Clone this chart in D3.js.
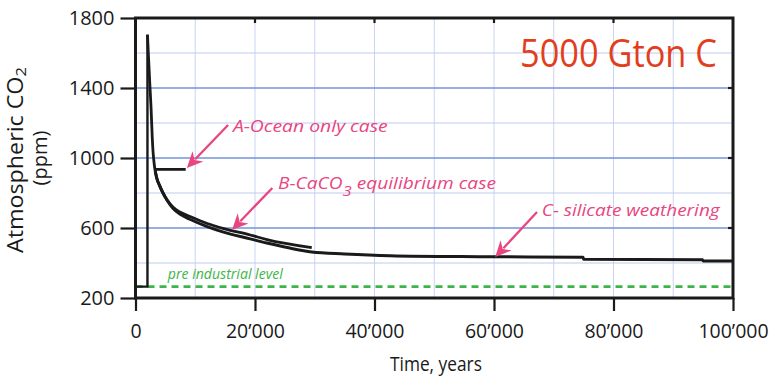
<!DOCTYPE html>
<html>
<head>
<meta charset="utf-8">
<script src="https://cdn.jsdelivr.net/npm/d3@7"></script>
<style>
  html, body { margin: 0; padding: 0; background: #fff; }
  svg { display: block; }
</style>
</head>
<body>
<svg id="chart" width="779" height="380"></svg>
<script>
// Emission pulse: pre-industrial baseline, then the sudden rise
const riseYears = [0, 2000, 2000];
const riseCO2 = [265, 265, 1705];

// Fast decay right after the peak, shared by all three cases
const peakYears = [2000, 2200, 2400, 2600, 2800, 2950, 3150, 3300];
const peakCO2 = [1705, 1560, 1420, 1290, 1120, 1030, 960, 925];

// A - ocean only case
const caseAYears = [3300, 8400];
const caseACO2 = [935, 935];

// B - CaCO3 equilibrium case
const caseBYears = [3300, 3600, 4000, 4600, 5300, 6300, 7500, 9100, 12000, 14600, 19200, 22000, 29500];
const caseBCO2 = [925, 880, 845, 800, 760, 718, 690, 666, 626, 598, 560, 534, 488];

// C - silicate weathering
const caseCYears = [3300, 3600, 4000, 4600, 5300, 6300, 7500, 9100, 12000, 14600, 19200, 22000, 29500, 35000, 42600, 57600, 74900, 75000, 94900, 95000, 100000];
const caseCCO2 = [925, 880, 845, 800, 758, 712, 678, 650, 608, 578, 538, 514, 463, 452, 442, 436, 433, 421, 419, 411, 411];

const preIndustrialCO2 = 265;

const xTickValues = [0, 20000, 40000, 60000, 80000, 100000];
const xTickLabels = ["0", "20\u2019000", "40\u2019000", "60\u2019000", "80\u2019000", "100\u2019000"];
const yTickValues = [200, 600, 1000, 1400, 1800];
const yTickLabels = ["200", "600", "1000", "1400", "1800"];
const yGridValues = [400, 600, 800, 1000, 1200, 1400, 1600];
const yGridMajor = [600, 1000, 1400];
const xGridValues = [10000, 20000, 30000, 40000, 50000, 60000, 70000, 80000, 90000];

// Annotation anchors in data units: arrow tip, arrow tail, text start
const notes = [
  { text: "A-Ocean only case", tip: [8600, 943], tail: [15500, 1189], at: [16300, 1149], len: 155 },
  { text: "B-CaCO", sub: "3", rest: " equilibrium case", tip: [16150, 589], tail: [22900, 829], at: [23850, 823], len: 218 },
  { text: "C- silicate weathering", tip: [60200, 434], tail: [67200, 691], at: [68000, 667], len: 178 }
];

const svg = d3.select("#chart");
const x = d3.scaleLinear().domain([0, 100000]).range([135.5, 733]);
const y = d3.scaleLinear().domain([200, 1800]).range([298, 18]);

const font = "'Open Sans', 'DejaVu Sans', sans-serif";
const pink = "#e9457f";
const ink = "#1a1a1a";

// squeeze or stretch a text element horizontally (in its own frame) to a target length
function fitWidth(sel, target, ox, oy) {
  const w = sel.node().getComputedTextLength();
  if (w > 0) sel.attr("transform", (sel.attr("transform") || "") +
    ` translate(${ox},${oy}) scale(${target / w},1) translate(${-ox},${-oy})`);
}

// grid
svg.append("g").selectAll("line").data(xGridValues).join("line")
  .attr("x1", d => x(d)).attr("x2", d => x(d))
  .attr("y1", y(1800)).attr("y2", y(200))
  .attr("stroke", "#c9d5f2").attr("stroke-width", 1);
svg.append("g").selectAll("line").data(yGridValues).join("line")
  .attr("x1", x(0)).attr("x2", x(100000))
  .attr("y1", d => y(d)).attr("y2", d => y(d))
  .attr("stroke", d => yGridMajor.includes(d) ? "#7393dc" : "#bccbef")
  .attr("stroke-width", d => yGridMajor.includes(d) ? 1.7 : 1.1);

// pre-industrial level
svg.append("line")
  .attr("x1", x(0)).attr("x2", x(100000))
  .attr("y1", y(preIndustrialCO2)).attr("y2", y(preIndustrialCO2))
  .attr("stroke", "#3cb54a").attr("stroke-width", 2.6)
  .attr("stroke-dasharray", "7,5");
svg.append("text")
  .attr("x", x(5400)).attr("y", y(preIndustrialCO2) - 8)
  .attr("font-family", font).attr("font-style", "italic")
  .attr("font-size", 15).attr("fill", "#3cb54a")
  .attr("textLength", 115).attr("lengthAdjust", "spacingAndGlyphs")
  .text("pre industrial level");

// curves
const toPts = (xs, ys) => xs.map((t, i) => [t, ys[i]]);
const lineLin = d3.line().x(d => x(d[0])).y(d => y(d[1]));
const lineSmooth = d3.line().x(d => x(d[0])).y(d => y(d[1])).curve(d3.curveMonotoneX);

const curves = svg.append("g").attr("fill", "none").attr("stroke", ink)
  .attr("stroke-linejoin", "round").attr("stroke-linecap", "butt");
curves.append("path").attr("d", lineLin(toPts(riseYears, riseCO2))).attr("stroke-width", 2.4);
curves.append("path").attr("d", lineSmooth(toPts(peakYears, peakCO2))).attr("stroke-width", 2.8);
curves.append("path").attr("d", lineLin(toPts(caseAYears, caseACO2))).attr("stroke-width", 2.8);
curves.append("path").attr("d", lineSmooth(toPts(caseBYears, caseBCO2))).attr("stroke-width", 2.8);
curves.append("path").attr("d", lineSmooth(toPts(caseCYears, caseCCO2))).attr("stroke-width", 3);

// frame
svg.append("rect")
  .attr("x", x(0)).attr("y", y(1800))
  .attr("width", x(100000) - x(0)).attr("height", y(200) - y(1800))
  .attr("fill", "none").attr("stroke", ink).attr("stroke-width", 3);

// axes
const xAxis = svg.append("g").attr("transform", `translate(0,${y(200)})`)
  .call(d3.axisBottom(x).tickValues(xTickValues).tickSize(13)
    .tickFormat((d, i) => xTickLabels[i]).tickPadding(13));
xAxis.select(".domain").remove();
xAxis.selectAll("line").attr("stroke", ink).attr("stroke-width", 2.2);
xAxis.selectAll("text").attr("font-family", font).attr("font-size", 19.5).attr("fill", ink);

const yAxis = svg.append("g").attr("transform", `translate(${x(0)},0)`)
  .call(d3.axisLeft(y).tickValues(yTickValues).tickSize(15)
    .tickFormat((d, i) => yTickLabels[i]).tickPadding(6));
yAxis.select(".domain").remove();
yAxis.selectAll("line").attr("stroke", ink).attr("stroke-width", 2.2);
yAxis.selectAll("text").attr("font-family", font).attr("font-size", 20).attr("fill", ink);

// small inward ticks on top and right edges
svg.append("g").selectAll("line").data(xTickValues.slice(1, -1)).join("line")
  .attr("x1", d => x(d)).attr("x2", d => x(d))
  .attr("y1", y(1800)).attr("y2", y(1800) + 5)
  .attr("stroke", ink).attr("stroke-width", 2.2);
svg.append("g").selectAll("line").data(yTickValues.slice(1, -1)).join("line")
  .attr("x1", x(100000)).attr("x2", x(100000) - 5)
  .attr("y1", d => y(d)).attr("y2", d => y(d))
  .attr("stroke", ink).attr("stroke-width", 2.2);

// axis titles
const xTitle = svg.append("text")
  .attr("x", 390).attr("y", 371)
  .attr("font-family", font).attr("font-size", 20).attr("fill", ink)
  .text("Time, years");
fitWidth(xTitle, 92, 390, 371);

const yTitle = svg.append("text")
  .attr("transform", "translate(23,253) rotate(-90)")
  .attr("font-family", font).attr("font-size", 21).attr("fill", ink);
yTitle.append("tspan").text("Atmospheric CO");
yTitle.append("tspan").attr("font-size", 15).attr("dy", 3).text("2");
fitWidth(yTitle, 186, 0, 0);
svg.append("text")
  .attr("transform", "translate(47,158) rotate(-90)")
  .attr("text-anchor", "middle")
  .attr("font-family", font).attr("font-size", 20).attr("fill", ink)
  .text("(ppm)");

// title
svg.append("text")
  .attr("x", 520).attr("y", 67)
  .attr("font-family", font).attr("font-size", 39).attr("fill", "#e23e1e")
  .attr("textLength", 197).attr("lengthAdjust", "spacingAndGlyphs")
  .text("5000 Gton C");

// annotations with arrows
const ann = svg.append("g");
notes.forEach(n => {
  const tx = x(n.tip[0]), ty = y(n.tip[1]);
  const sx = x(n.tail[0]), sy = y(n.tail[1]);
  const ang = Math.atan2(ty - sy, tx - sx);
  const headLen = 16, headW = 7.5;
  const c = Math.cos(ang), s = Math.sin(ang);
  const bx = tx - headLen * c, by = ty - headLen * s;
  ann.append("line")
    .attr("x1", sx).attr("y1", sy).attr("x2", bx + 4 * c).attr("y2", by + 4 * s)
    .attr("stroke", pink).attr("stroke-width", 2.3);
  const px = -s, py = c;
  ann.append("path")
    .attr("d", `M${tx},${ty} L${bx + headW * px},${by + headW * py} L${bx + 5 * c},${by + 5 * s} L${bx - headW * px},${by - headW * py} Z`)
    .attr("fill", pink);
  const t = ann.append("text")
    .attr("x", x(n.at[0])).attr("y", y(n.at[1]))
    .attr("font-family", font).attr("font-style", "italic")
    .attr("font-size", 17).attr("fill", pink);
  if (n.sub) {
    t.append("tspan").text(n.text);
    t.append("tspan").attr("font-size", 15).attr("dy", 7).text(n.sub);
    t.append("tspan").attr("dy", -7).text(n.rest);
  } else {
    t.text(n.text);
  }
  fitWidth(t, n.len, x(n.at[0]), 0);
});
</script>
</body>
</html>
